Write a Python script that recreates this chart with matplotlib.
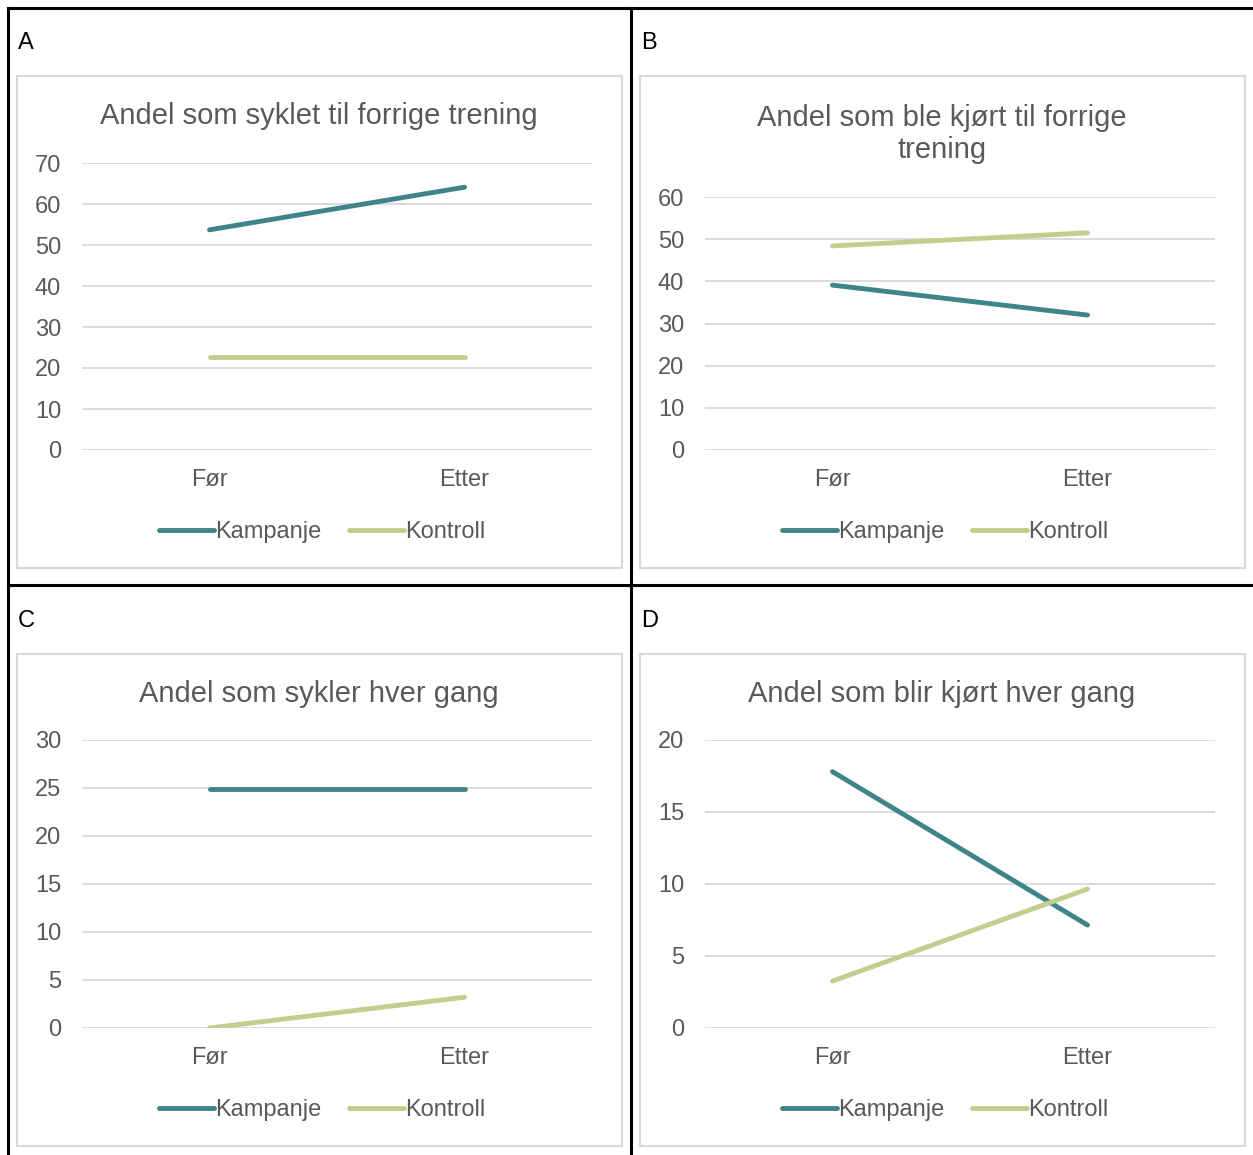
import matplotlib
matplotlib.use("Agg")
import matplotlib.pyplot as plt
from matplotlib.lines import Line2D
from matplotlib.patches import Rectangle

plt.rcParams['font.family'] = ['Liberation Sans', 'DejaVu Sans']

# data
kategorier = ["Før", "Etter"]
titler = ["Andel som syklet til forrige trening",
          "Andel som ble kjørt til forrige\ntrening",
          "Andel som sykler hver gang",
          "Andel som blir kjørt hver gang"]
panel_navn = ["A", "B", "C", "D"]
kampanje = [[53.7, 64.1], [39.1, 32.0], [24.9, 24.9], [17.8, 7.15]]
kontroll = [[22.7, 22.7], [48.4, 51.5], [0.0, 3.2], [3.26, 9.65]]
y_maks = [70, 60, 30, 20]
y_steg = [10, 10, 5, 5]

TEAL = "#3E8489"
GRONN = "#C4CD8D"
TEKST = "#595959"
GRID = "#D9D9D9"

W, H = 1253, 1155
fig = plt.figure(figsize=(W / 100, H / 100), dpi=100)

def fx(px):
    return px / W

def fy(py):
    return 1 - py / H

# celle-rammer (tabell)
for (x0, y0, x1, y1) in [(8, 8, 1253, 8), (8, 8, 8, 1155), (631, 8, 631, 1155), (8, 585, 1253, 585)]:
    fig.add_artist(Line2D([fx(x0), fx(x1)], [fy(y0), fy(y1)], color="black", lw=2.2))

# plasseringer: (boks x0, boks y0, plott x0, plott-topp y, null y)
oppsett = [(17, 76, 82, 163, 450),
           (640, 76, 705, 197, 450),
           (17, 654, 82, 740, 1028),
           (640, 654, 705, 740, 1028)]

for i, (bx, by, px, ptop, pbunn) in enumerate(oppsett):
    # grå ramme rundt diagrammet
    fig.add_artist(Rectangle((fx(bx), fy(by + 492)), 605 / W, 492 / H,
                             fill=False, edgecolor=GRID, lw=1.5))
    fig.text(fx(bx + 1), fy(by - 33), panel_navn[i], fontsize=17,
             color="black", va="center", ha="left")

    ax = fig.add_axes([fx(px), fy(pbunn), 510 / W, (pbunn - ptop) / H])
    ax.plot([0, 1], kampanje[i], color=TEAL, lw=3.5, solid_capstyle="round", label="Kampanje", zorder=3)
    ax.plot([0, 1], kontroll[i], color=GRONN, lw=3.5, solid_capstyle="round", label="Kontroll", zorder=3)
    ax.set_xlim(-0.5, 1.5)
    ax.set_ylim(0, y_maks[i])
    ax.set_yticks(range(0, y_maks[i] + 1, y_steg[i]))
    ax.yaxis.grid(True, color=GRID, lw=1.3)
    ax.set_axisbelow(True)
    ax.set_xticks([0, 1])
    ax.set_xticklabels(kategorier)
    ax.tick_params(axis="both", length=0, labelsize=17, colors=TEKST)
    ax.tick_params(axis="y", pad=15)
    ax.tick_params(axis="x", pad=14)
    for s in ax.spines.values():
        s.set_visible(False)
    ax.set_facecolor("none")

    # tittel
    tittel_y = by + 40 if i != 1 else by + 58
    fig.text(fx(bx + 302), fy(tittel_y), titler[i], fontsize=21, color=TEKST,
             ha="center", va="center", linespacing=1.2)

    # legende
    handles = [Line2D([], [], color=TEAL, lw=3.5, solid_capstyle="round"),
               Line2D([], [], color=GRONN, lw=3.5, solid_capstyle="round")]
    fig.legend(handles, ["Kampanje", "Kontroll"], loc="center",
               bbox_to_anchor=(fx(bx + 305), fy(by + 456)), ncol=2, frameon=False,
               fontsize=17, handlelength=2.35, handletextpad=0.05, columnspacing=1.15,
               labelcolor=TEKST)

fig.savefig("out.png", dpi=100)
